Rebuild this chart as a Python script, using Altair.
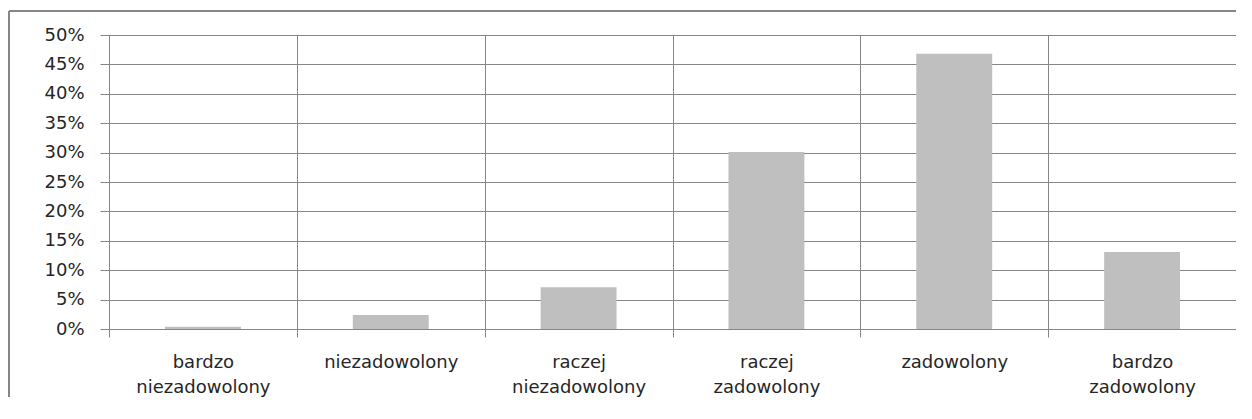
import altair as alt
import pandas as pd

categories = ["bardzo niezadowolony", "niezadowolony", "raczej niezadowolony",
              "raczej zadowolony", "zadowolony", "bardzo zadowolony"]
values = [0.004, 0.024, 0.071, 0.301, 0.468, 0.131]
y_ticks = [0, 0.05, 0.10, 0.15, 0.20, 0.25, 0.30, 0.35, 0.40, 0.45, 0.50]

df = pd.DataFrame({"kategoria": categories, "udzial": values})

GRID = "#868686"
TEXT = "#262626"
FONT = "DejaVu Sans"

bars = alt.Chart(df).mark_bar(color="#BFBFBF", width=alt.RelativeBandSize(0.404)).encode(
    x=alt.X("kategoria:N", sort=None,
            scale=alt.Scale(paddingInner=0, paddingOuter=0),
            axis=alt.Axis(title=None, labelAngle=0, tickBand="extent", grid=True,
                          gridColor=GRID, tickColor=GRID, tickSize=8, domain=False,
                          labelFont=FONT, labelFontSize=18, labelColor=TEXT,
                          labelPadding=16, labelLineHeight=25,
                          labelExpr="split(datum.label, ' ')")),
    y=alt.Y("udzial:Q", scale=alt.Scale(domain=[0, 0.5], nice=False),
            axis=alt.Axis(title=None, values=y_ticks, format=".0%", grid=True,
                          gridColor=GRID, tickColor=GRID, tickSize=9, domain=False,
                          labelFont=FONT, labelFontSize=18, labelColor=TEXT,
                          labelPadding=16, labelFlush=False, labelOverlap=False)),
)

left_border = alt.Chart(df).mark_rule(color=GRID, strokeWidth=2).encode(
    x=alt.value(-100), y=alt.value(-24), y2=alt.value(365))
top_border = alt.Chart(df).mark_rule(color=GRID, strokeWidth=2).encode(
    x=alt.value(-100), x2=alt.value(1135), y=alt.value(-24))

chart = alt.layer(bars, left_border, top_border).properties(
    width=1127, height=294,
    autosize=alt.AutoSizeParams(type="none"),
    padding={"left": 101, "top": 27, "right": 0, "bottom": 68},
).configure_view(stroke="transparent")

chart.save("out.html", embed_options={"renderer": "svg", "actions": False})
